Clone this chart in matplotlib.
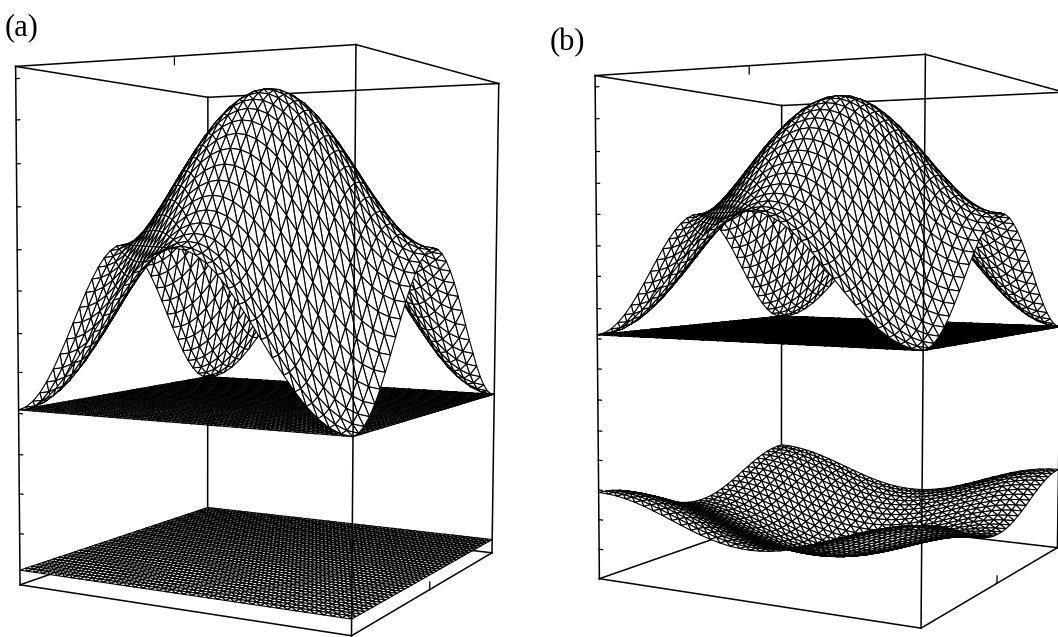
import matplotlib
matplotlib.use("Agg")
import matplotlib.pyplot as plt
import numpy as np

# one quadrant of the surface height, centre (row 0, col 0)
# to box corner (row 16, col 16), normalised to the peak
shape_rows = [
    [1.000, .995, .981, .958, .927, .889, .846, .799, .750, .701, .655, .611, .573, .542, .519, .505, .500],
    [.995, .990, .976, .953, .922, .884, .841, .794, .745, .696, .650, .606, .568, .537, .514, .500, .495],
    [.981, .976, .962, .939, .908, .870, .827, .780, .731, .682, .636, .592, .554, .523, .500, .486, .481],
    [.958, .953, .939, .916, .885, .847, .804, .757, .708, .659, .613, .569, .531, .500, .477, .463, .458],
    [.927, .922, .908, .885, .854, .816, .773, .726, .677, .628, .582, .538, .500, .469, .446, .432, .427],
    [.889, .884, .870, .847, .816, .778, .735, .688, .639, .590, .544, .500, .462, .431, .408, .394, .389],
    [.846, .841, .827, .804, .773, .735, .691, .645, .596, .547, .500, .457, .419, .388, .365, .351, .346],
    [.799, .794, .780, .757, .726, .688, .645, .598, .549, .500, .454, .410, .372, .341, .318, .304, .299],
    [.750, .745, .731, .708, .677, .639, .596, .549, .500, .451, .405, .361, .323, .292, .269, .255, .250],
    [.701, .696, .682, .659, .628, .590, .547, .500, .451, .402, .356, .312, .274, .243, .220, .206, .201],
    [.655, .650, .636, .613, .582, .544, .500, .454, .405, .356, .309, .266, .228, .197, .174, .160, .155],
    [.611, .606, .592, .569, .538, .500, .457, .410, .361, .312, .266, .222, .184, .153, .130, .116, .111],
    [.573, .568, .554, .531, .500, .462, .419, .372, .323, .274, .228, .184, .146, .115, .092, .078, .073],
    [.542, .537, .523, .500, .469, .431, .388, .341, .292, .243, .197, .153, .115, .084, .061, .047, .042],
    [.519, .514, .500, .477, .446, .408, .365, .318, .269, .220, .174, .130, .092, .061, .038, .024, .019],
    [.505, .500, .486, .463, .432, .394, .351, .304, .255, .206, .160, .116, .078, .047, .024, .010, .005],
    [.500, .495, .481, .458, .427, .389, .346, .299, .250, .201, .155, .111, .073, .042, .019, .005, .000],
]

# heights as a fraction of the box
mid_a = 0.343
peak_a = 0.631
floor_a = 0.029
mid_b = 0.491
peak_b = 0.486
corner_b = 0.175
dip_b = 0.153

ticks_a = [.977, .899, .816, .734, .652, .573, .491, .416, .336, .256, .179, .101]
ticks_b = [.978, .916, .852, .79, .729, .667, .607, .543, .483, .423, .361, .299, .24, .18, .12, .06]

W, H = 1058, 637
fig = plt.figure(figsize=(W / 100, H / 100), dpi=100, facecolor="white")


def mesh(z):
    n = z.shape[0]
    gx, gy = np.meshgrid(np.linspace(-1, 1, n), np.linspace(-1, 1, n), indexing="ij")
    tri = []
    for i in range(n - 1):
        for j in range(n - 1):
            a, b, c, d = i * n + j, (i + 1) * n + j, (i + 1) * n + j + 1, i * n + j + 1
            tri += [(a, b, c), (a, c, d)]
    return gx.ravel(), gy.ravel(), z.ravel(), np.array(tri)


def draw_surface(ax, z, zorder, lw=0.8, face="white"):
    x, y, zz, tri = mesh(z)
    ax.plot_trisurf(x, y, zz, triangles=tri, color=face, edgecolor="black",
                    linewidth=lw, shade=False, zorder=zorder)


def make_axes(cx, cy, size):
    ax = fig.add_axes([(cx - size * 0.5135) / W, 1 - (cy + size * 0.4865) / H, size / W, size / H],
                      projection="3d", computed_zorder=False)
    ax.set_box_aspect((1, 1, 1.405))
    ax.view_init(elev=3.9, azim=28.4, roll=-0.2)
    ax.set_proj_type("persp", focal_length=0.386)
    ax.set_xlim(-1, 1)
    ax.set_ylim(-1, 1)
    ax.set_zlim(0, 1)
    ax.set_axis_off()
    ax.patch.set_visible(False)
    return ax


def draw_box(ax, ticks):
    lw = 1.1
    # far edges go under the surfaces, near ones over them
    ax.plot([-1, -1], [-1, -1], [0, 1], color="black", lw=lw, zorder=0)
    ax.plot([-1, 1], [-1, -1], [0, 0], color="black", lw=lw, zorder=0)
    ax.plot([-1, -1], [-1, 1], [0, 0], color="black", lw=lw, zorder=0)
    ax.plot([-1, 1], [-1, -1], [1, 1], color="black", lw=lw, zorder=0)
    ax.plot([-1, -1], [-1, 1], [1, 1], color="black", lw=lw, zorder=0)
    ax.plot([1, 1], [1, 1], [0, 1], color="black", lw=lw, zorder=9)
    ax.plot([1, 1], [-1, -1], [0, 1], color="black", lw=lw, zorder=9)
    ax.plot([-1, -1], [1, 1], [0, 1], color="black", lw=lw, zorder=9)
    ax.plot([1, 1], [-1, 1], [0, 0], color="black", lw=lw, zorder=9)
    ax.plot([-1, 1], [1, 1], [0, 0], color="black", lw=lw, zorder=9)
    ax.plot([1, 1], [-1, 1], [1, 1], color="black", lw=lw, zorder=9)
    ax.plot([-1, 1], [1, 1], [1, 1], color="black", lw=lw, zorder=9)
    for t in ticks:
        ax.plot([1, 1], [-1, -0.975], [t, t], color="black", lw=0.9, zorder=9)
    ax.plot([1, 1], [0, 0], [1, 0.985], color="black", lw=0.9, zorder=9)
    ax.plot([0, 0], [1, 1], [0, 0.015], color="black", lw=0.9, zorder=9)


idx = np.r_[16:0:-1, 0:17]
shape = np.array(shape_rows)[np.ix_(idx, idx)]
sheet = np.zeros((41, 41))

ax_a = make_axes(268.5, 343, 680)
draw_box(ax_a, ticks_a)
draw_surface(ax_a, sheet + floor_a, 1, lw=0.8)
draw_surface(ax_a, sheet + mid_a, 2, lw=0.75)
draw_surface(ax_a, mid_a + peak_a * shape, 3)

ax_b = make_axes(840.5, 344, 660)
draw_box(ax_b, ticks_b)
draw_surface(ax_b, corner_b - dip_b * shape, 1, lw=0.8)
draw_surface(ax_b, sheet + mid_b, 2, lw=1.0, face="black")
draw_surface(ax_b, mid_b + peak_b * shape, 3)

fig.text(5 / W, 1 - 35 / H, "(a)", family="Liberation Serif", fontsize=22, color="black")
fig.text(550 / W, 1 - 50 / H, "(b)", family="Liberation Serif", fontsize=22, color="black")

fig.savefig("out.png", dpi=100, facecolor="white")
